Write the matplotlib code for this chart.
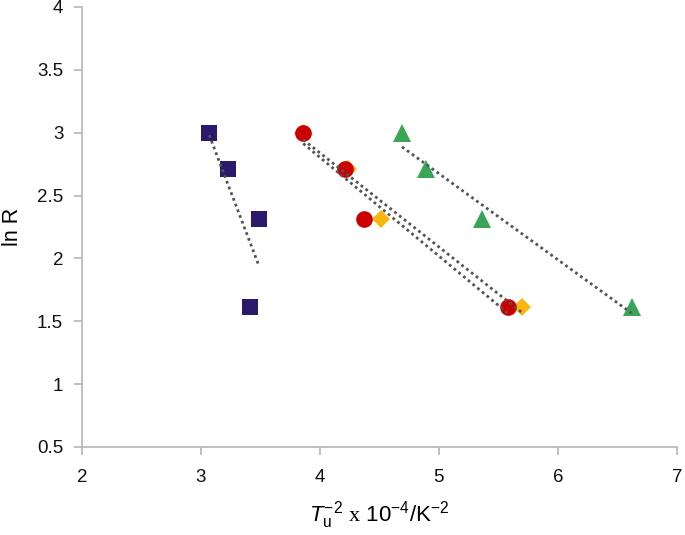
import numpy as np
import matplotlib
matplotlib.use("Agg")
import matplotlib.pyplot as plt

plt.rcParams["font.family"] = ["Liberation Sans", "DejaVu Sans"]
plt.rcParams["mathtext.fontset"] = "custom"
plt.rcParams["mathtext.rm"] = "Liberation Sans"
plt.rcParams["mathtext.it"] = "Liberation Sans:italic"
plt.rcParams["mathtext.sf"] = "Liberation Serif"

# data (x = Tu^-2 x 10^-4, y = ln R)
sq_x = [3.07, 3.23, 3.49, 3.41]
sq_y = [3.00, 2.71, 2.31, 1.61]
ci_x = [3.86, 4.21, 4.37, 5.58]
ci_y = [3.00, 2.71, 2.31, 1.61]
di_x = [3.86, 4.24, 4.51, 5.70]
di_y = [3.00, 2.71, 2.31, 1.61]
tr_x = [4.69, 4.89, 5.36, 6.62]
tr_y = [3.00, 2.71, 2.31, 1.61]

SERIES = [
    (sq_x, sq_y, "s", "#2b1a6b", 12),
    (di_x, di_y, "D", "#f7b70c", 9.5),
    (ci_x, ci_y, "o", "#cc0000", 12),
    (tr_x, tr_y, "^", "#3aa655", 12.5),
]

fig = plt.figure(figsize=(6.85, 5.35), dpi=100)
ax = fig.add_axes([0.1197, 0.1645, 0.8683, 0.8225])

for xs, ys, m, c, ms in SERIES:
    ax.plot(xs, ys, linestyle="none", marker=m, color=c, markersize=ms,
            markeredgewidth=0, zorder=3)

# linear trendlines over each series' x range
for xs, ys, m, c, ms in SERIES:
    k, b = np.polyfit(xs, ys, 1)
    xx = np.array([min(xs), max(xs)])
    ax.plot(xx, k * xx + b, linestyle=(0, (1, 1.2)), color="#555555",
            linewidth=2, zorder=4)

ax.set_xlim(2, 7)
ax.set_ylim(0.5, 4)
ax.set_xticks([2, 3, 4, 5, 6, 7])
ax.set_yticks([0.5, 1, 1.5, 2, 2.5, 3, 3.5, 4])
ax.set_yticklabels(["0.5", "1", "1.5", "2", "2.5", "3", "3.5", "4"])

for s in ["top", "right"]:
    ax.spines[s].set_visible(False)
for s in ["left", "bottom"]:
    ax.spines[s].set_color("#b5b5b5")
    ax.spines[s].set_linewidth(1.2)
ax.tick_params(axis="both", colors="#b5b5b5", labelcolor="#111111",
               labelsize=13.5, length=5.5, width=1.2)
ax.tick_params(axis="x", pad=10)
ax.tick_params(axis="y", pad=8)

ax.set_ylabel("ln R", fontsize=15.5, labelpad=10)
ax.set_xlabel(r"$\mathit{T}_\mathrm{u}^{-2}$ $\mathsf{x}$ 10$^{-4}$/K$^{-2}$",
              fontsize=16, labelpad=10)

fig.savefig("out.png", dpi=100)
